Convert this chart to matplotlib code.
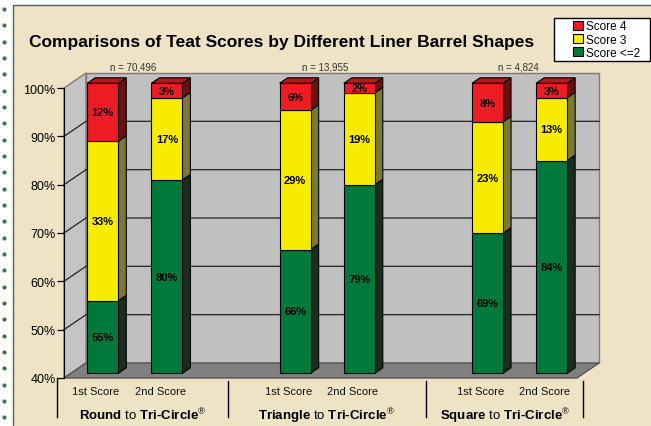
import numpy as np
import matplotlib.pyplot as plt
from matplotlib.patches import Polygon, Rectangle, Patch

plt.rcParams['font.family'] = ['Liberation Sans', 'DejaVu Sans']
plt.rcParams['mathtext.fontset'] = 'custom'
plt.rcParams['mathtext.rm'] = 'Liberation Sans'
plt.rcParams['mathtext.bf'] = 'Liberation Sans:bold'

# data
shapes = ['Round', 'Triangle', 'Square']
sample_sizes = ['n = 70,496', 'n = 13,955', 'n = 4,824']
score_ticks = ['1st Score', '2nd Score']
# bars: Round 1st, Round 2nd, Triangle 1st, Triangle 2nd, Square 1st, Square 2nd
score_low = [55, 80, 65.6, 79, 69, 84]
score_3 = [33, 17, 28.8, 19, 23, 13]
score_4 = [12, 3, 5.6, 2, 8, 3]
legend_names = ['Score 4', 'Score 3', 'Score <=2']

W, H = 651, 427
fig = plt.figure(figsize=(W / 100, H / 100), dpi=100)
fig.patch.set_facecolor('white')

# page background + dotted strip
bg = fig.add_axes([0, 0, 1, 1], zorder=-1)
bg.set_xlim(0, W)
bg.set_ylim(H, 0)
bg.axis('off')
bg.add_patch(Rectangle((13, 6), W, H, facecolor='#efe3c5', edgecolor='#3f6b5c', lw=1))
dots_y = np.arange(10, H, 16.33)
bg.scatter(np.full(len(dots_y), 3.5), dots_y, s=9, color='#3d7362', lw=0)

ax = fig.add_axes([64 / W, 48 / H, 513 / W, 290 / H])
ax.set_xlim(-0.5, 7.5)
ax.set_ylim(40, 100)
ax.patch.set_alpha(0)

ppx = 513 / 8
ppy = 290 / 60
DX, DY = 22 / ppx, 15 / ppy      # wall depth
bx, by = 6.7 / ppx, 4.7 / ppy    # bar front offset
sx, sy = 8 / ppx, 5.5 / ppy      # bar depth

# walls and floor
wall_kw = dict(edgecolor='#7a7a7a', lw=1, clip_on=False, zorder=0)
ax.add_patch(Polygon([(-0.5 + DX, 40 + DY), (7.5 + DX, 40 + DY), (7.5 + DX, 100 + DY), (-0.5 + DX, 100 + DY)],
                     facecolor='#c0c0c0', **wall_kw))
ax.add_patch(Polygon([(-0.5, 40), (-0.5 + DX, 40 + DY), (-0.5 + DX, 100 + DY), (-0.5, 100)],
                     facecolor='#c4c4c4', **wall_kw))
for g in range(50, 100, 10):
    ax.plot([-0.5, -0.5 + DX, 7.5 + DX], [g, g + DY, g + DY], color='#222222', lw=0.9,
            clip_on=False, zorder=0.5)
ax.add_patch(Polygon([(-0.5, 40), (7.5, 40), (7.5 + DX, 40 + DY), (-0.5 + DX, 40 + DY)],
                     facecolor='#808080', edgecolor='#555555', lw=1, clip_on=False, zorder=1))

# bars
pos = np.array([0, 1, 3, 4, 6, 7])
bw = 0.484
front_cols = ['#00793b', '#f7eb00', '#ee1c24']
side_cols = ['#1a2e1c', '#7c7838', '#6b0f10']
series = [score_low, score_3, score_4]
heights = [np.array(score_low) - 40, np.array(score_3), np.array(score_4)]
base = np.full(len(pos), 40.0)
for k, h in enumerate(heights):
    ax.bar(pos + bx, h, bw, bottom=base + by, color=front_cols[k], edgecolor='black', lw=0.8,
           clip_on=False, zorder=3)
    for x, b0, hh, v in zip(pos + bx, base + by, h, series[k]):
        xr = x + bw / 2
        ax.add_patch(Polygon([(xr, b0), (xr + sx, b0 + sy), (xr + sx, b0 + hh + sy), (xr, b0 + hh)],
                             facecolor=side_cols[k], edgecolor='black', lw=0.8, clip_on=False, zorder=2.9))
        ax.text(x, b0 + hh / 2, f'{v:.0f}%', ha='center', va='center', fontsize=8,
                fontweight='bold', color='black', zorder=4)
    base = base + h
for x, t in zip(pos + bx, base + by):
    xl = x - bw / 2
    ax.add_patch(Polygon([(xl, t), (xl + bw, t), (xl + bw + sx, t + sy), (xl + sx, t + sy)],
                         facecolor='#b8171c', edgecolor='black', lw=0.8, clip_on=False, zorder=2.9))

# sample size labels
for xg, s in zip([0.5, 3.5, 6.5], sample_sizes):
    ax.text(xg + 5 / ppx, 100 + 22 / ppy, s, ha='center', va='center', fontsize=7, color='#333333')

# axes
for sp in ['top', 'right', 'bottom']:
    ax.spines[sp].set_visible(False)
ax.spines['left'].set_color('black')
ax.set_yticks(range(40, 101, 10))
ax.set_yticklabels([f'{v}%' for v in range(40, 101, 10)])
ax.tick_params(axis='y', length=5, width=0.9, pad=1, labelsize=9, colors='black')
ax.set_xticks(pos)
ax.set_xticklabels(score_ticks * 3)
ax.tick_params(axis='x', length=0, pad=6, labelsize=8, labelcolor='#111111')

sep_x = [-0.61, 2.05, 5.15, 7.6]
trans = ax.get_xaxis_transform()
for i, x in enumerate(sep_x):
    y0 = 0 if i == 0 else -3 / 290
    ax.plot([x, x], [y0, -39 / 290], color='black', lw=1, transform=trans, clip_on=False)
for i, s in enumerate(shapes):
    xm = (sep_x[i] + sep_x[i + 1]) / 2
    ax.text(xm, -42 / 290, rf'$\mathbf{{{s}}}$ to $\mathbf{{Tri‐Circle}}^{{®}}$', transform=trans,
            ha='center', va='baseline', fontsize=9.5)

fig.text(29 / W, 1 - 43 / H, 'Comparisons of Teat Scores by Different Liner Barrel Shapes',
         fontsize=12.5, fontweight='bold', ha='left', va='center')

# legend
bg.add_patch(Rectangle((554, 19), 96, 43, facecolor='white', edgecolor='black', lw=1))
handles = [Patch(facecolor=c, edgecolor='black', lw=0.8) for c in ['#ee1c24', '#f7eb00', '#00793b']]
fig.legend(handles, legend_names, loc='upper left', bbox_to_anchor=(571 / W, 1 - 19 / H),
           frameon=False, fontsize=8.5, handlelength=0.8, handleheight=0.8, handletextpad=0.25,
           labelspacing=0.1, borderpad=0.2, borderaxespad=0)

plt.savefig('out.png', dpi=100)
